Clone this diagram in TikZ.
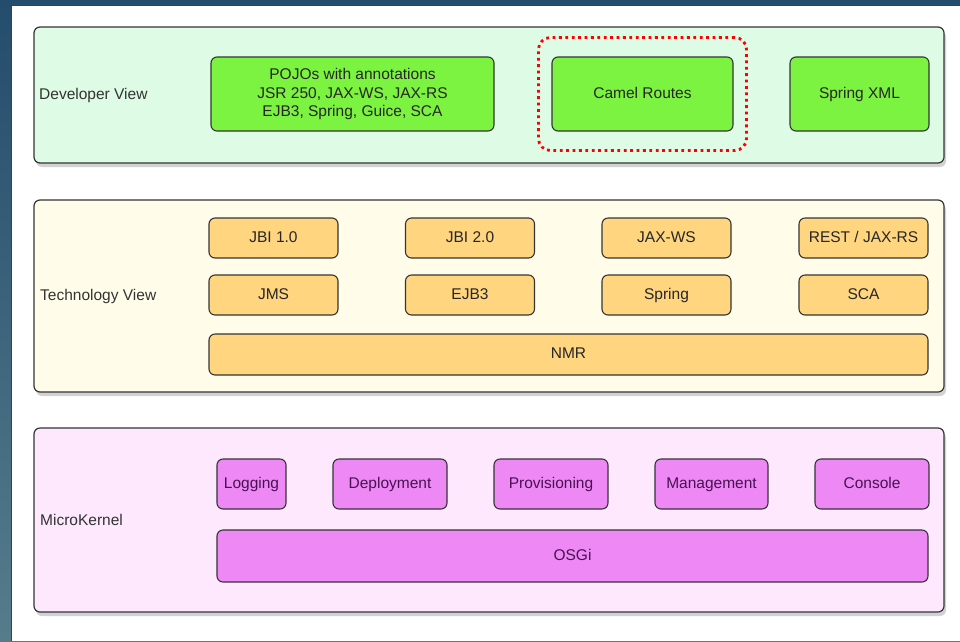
\documentclass[tikz,border=0pt]{standalone}
\usepackage{fontspec}
\setmainfont{Liberation Sans}
\usepackage{tikz}
\usetikzlibrary{shapes,calc,positioning,backgrounds,fit,shadows}

\definecolor{slideblue}{RGB}{36,76,108}
\definecolor{slideteal}{RGB}{86,124,140}
\definecolor{devbg}{RGB}{221,251,229}
\definecolor{techbg}{RGB}{255,253,234}
\definecolor{kernbg}{RGB}{253,232,253}
\definecolor{devbox}{RGB}{125,243,65}
\definecolor{techbox}{RGB}{255,213,127}
\definecolor{kernbox}{RGB}{238,136,245}
\definecolor{kerntext}{RGB}{72,18,82}
\definecolor{edgegray}{RGB}{52,52,52}

\begin{document}
\begin{tikzpicture}[x=1pt, y=-1pt, inner sep=0pt,
                    every node/.style={font=\fontsize{15.5}{18.5}\selectfont},
                    panel/.style={draw=edgegray, line width=1.2pt, rounded corners=6pt,
                                  drop shadow={shadow xshift=2pt, shadow yshift=-4pt, opacity=0.35}},
                    box/.style={draw=edgegray, line width=1.1pt, rounded corners=6pt,
                                align=center, text=black!85},
                    onerow/.style={box, text height=11.5pt, text depth=3pt},
                    viewlabel/.style={anchor=west, text=black!80}]
    \useasboundingbox (0,0) rectangle (960,641);

    % slide background
    \fill [top color=slideblue, bottom color=slideteal] (0,0) rectangle (960,641);
    \fill [white] (11,5) rectangle (960,641);
    \draw [black!75, line width=1pt] (11,641) -- (11,5) -- (960,5);

    % developer view
    \node at (489, 95)    (devpanel)  [panel, fill=devbg, minimum width=910pt, minimum height=136pt] {};
    \node at (39, 95)     (devlabel)  [viewlabel] {Developer View};
    \node at (352.5, 94)  (pojos)     [box, fill=devbox, minimum width=283pt, minimum height=74pt]
        {POJOs with annotations\\JSR 250, JAX-WS, JAX-RS\\EJB3, Spring, Guice, SCA};
    \node at (642.5, 94)  (camel)     [onerow, fill=devbox, minimum width=181pt, minimum height=74pt] {Camel Routes};
    \node at (859.5, 94)  (springxml) [onerow, fill=devbox, minimum width=139pt, minimum height=74pt] {Spring XML};
    \node (camelmark) [fit=(camel), inner xsep=13pt, inner ysep=19pt, draw=red, line width=2.8pt,
                       dash pattern=on 2.8pt off 3.6pt, rounded corners=12pt] {};

    % technology view
    \node at (489, 296)   (techpanel) [panel, fill=techbg, minimum width=910pt, minimum height=192pt] {};
    \node at (40, 296)    (techlabel) [viewlabel] {Technology View};
    \node at (273.5, 238) (jbione)    [onerow, fill=techbox, minimum width=129pt, minimum height=40pt] {JBI 1.0};
    \node at (470, 238)   (jbitwo)    [onerow, fill=techbox, minimum width=129pt, minimum height=40pt] {JBI 2.0};
    \node at (666.5, 238) (jaxws)     [onerow, fill=techbox, minimum width=129pt, minimum height=40pt] {JAX-WS};
    \node at (863.5, 238) (jaxrs)     [onerow, fill=techbox, minimum width=129pt, minimum height=40pt] {REST / JAX-RS};
    \node at (273.5, 295) (jms)       [onerow, fill=techbox, minimum width=129pt, minimum height=40pt] {JMS};
    \node at (470, 295)   (ejb)       [onerow, fill=techbox, minimum width=129pt, minimum height=40pt] {EJB3};
    \node at (666.5, 295) (spring)    [onerow, fill=techbox, minimum width=129pt, minimum height=40pt] {Spring};
    \node at (863.5, 295) (sca)       [onerow, fill=techbox, minimum width=129pt, minimum height=40pt] {SCA};
    \node at (568.5, 354.5) (nmr)     [onerow, fill=techbox, minimum width=719pt, minimum height=41pt] {NMR};

    % microkernel
    \node at (489, 520)   (kernpanel) [panel, fill=kernbg, minimum width=910pt, minimum height=184pt] {};
    \node at (40, 520)    (kernlabel) [viewlabel] {MicroKernel};
    \node at (251.5, 484) (logging)   [onerow, fill=kernbox, text=kerntext, minimum width=69pt, minimum height=50pt] {Logging};
    \node at (390, 484)   (deploy)    [onerow, fill=kernbox, text=kerntext, minimum width=114pt, minimum height=50pt] {Deployment};
    \node at (551, 484)   (provision) [onerow, fill=kernbox, text=kerntext, minimum width=114pt, minimum height=50pt] {Provisioning};
    \node at (711.5, 484) (manage)    [onerow, fill=kernbox, text=kerntext, minimum width=113pt, minimum height=50pt] {Management};
    \node at (872, 484)   (console)   [onerow, fill=kernbox, text=kerntext, minimum width=114pt, minimum height=50pt] {Console};
    \node at (572.5, 556) (osgi)      [onerow, fill=kernbox, text=kerntext, minimum width=711pt, minimum height=52pt] {OSGi};
\end{tikzpicture}
\end{document}
